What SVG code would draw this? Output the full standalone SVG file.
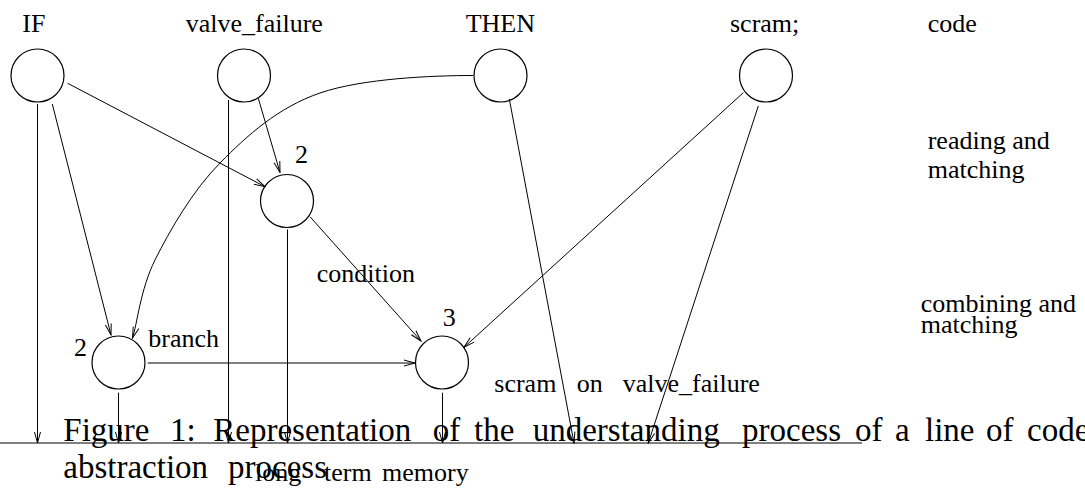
<svg xmlns="http://www.w3.org/2000/svg" width="1085" height="491" viewBox="0 0 1085 491">
  <style>
    .lbl { font-family: "Liberation Serif", "Times New Roman", serif; font-size: 26px; fill: #000; }
    .cap { font-family: "Liberation Serif", "Times New Roman", serif; font-size: 33px; fill: #000; }
    .node circle { fill: none; stroke: #000; stroke-width: 1.2; }
    .edge { fill: none; stroke: #000; stroke-width: 1; }
    .arr { marker-end: url(#vhead); }
  </style>
  <defs>
    <marker id="vhead" markerUnits="userSpaceOnUse" viewBox="-12 -4 13 8" refX="0" refY="0" markerWidth="13" markerHeight="8" orient="auto">
      <path d="M-11,-3 L0,0 L-11,3" fill="none" stroke="#000" stroke-width="1"/>
    </marker>
  </defs>
  <rect width="1085" height="491" fill="#fff"/>

  <!-- level labels -->
  <text class="lbl" x="927.7" y="32.3">code</text>
  <text class="lbl" x="927.7" y="149">reading and</text>
  <text class="lbl" x="927.7" y="178">matching</text>
  <text class="lbl" x="920.7" y="311.7">combining and</text>
  <text class="lbl" x="920.7" y="333">matching</text>

  <!-- code tokens -->
  <g id="n-if" class="node">
    <circle cx="37.5" cy="75.5" r="26.5"/>
    <text class="lbl" x="22.3" y="32.3">IF</text>
  </g>
  <g id="n-valve" class="node">
    <circle cx="244" cy="75.5" r="26.5"/>
    <text class="lbl" x="185.7" y="32.3">valve_failure</text>
  </g>
  <g id="n-then" class="node">
    <circle cx="500.5" cy="75.5" r="26.5"/>
    <text class="lbl" x="465.7" y="32.3">THEN</text>
  </g>
  <g id="n-scram" class="node">
    <circle cx="766" cy="75.5" r="26.5"/>
    <text class="lbl" x="730" y="32.3">scram;</text>
  </g>

  <!-- matched condition -->
  <g id="n-cond" class="node">
    <circle cx="287" cy="201" r="26.5"/>
    <text class="lbl" x="295" y="163.3">2</text>
  </g>
  <!-- branch -->
  <g id="n-branch" class="node">
    <circle cx="118.5" cy="362.5" r="26.5"/>
    <text class="lbl" x="74" y="356">2</text>
  </g>
  <!-- combined rule -->
  <g id="n-rule" class="node">
    <circle cx="442" cy="362.5" r="26.5"/>
    <text class="lbl" x="442.7" y="326">3</text>
  </g>

  <!-- connectors -->
  <g id="connectors">
    <line class="edge arr" x1="37.5" y1="104" x2="37.5" y2="443"/>
    <line class="edge arr" x1="52.3" y1="104" x2="111" y2="335"/>
    <line class="edge arr" x1="67.7" y1="83.3" x2="265" y2="186.7"/>
    <line class="edge arr" x1="228.5" y1="100" x2="228.5" y2="443"/>
    <line class="edge arr" x1="258.3" y1="98.3" x2="280" y2="172.5"/>
    <line class="edge arr" x1="287.5" y1="229.5" x2="287.5" y2="443"/>
    <line class="edge arr" x1="310" y1="216.7" x2="421" y2="341"/>
    <path class="edge arr" d="M473,75.5 C433,75.5 362.2,78.4 320,93 C277.8,107.6 247.5,135.2 220,163 C192.5,190.8 169.6,230.8 155,260 C140.4,289.2 137,325 132.5,338"/>
    <line class="edge arr" x1="509.3" y1="99" x2="574" y2="443"/>
    <line class="edge arr" x1="743.3" y1="92.7" x2="464" y2="347.3"/>
    <line class="edge arr" x1="758.3" y1="106" x2="648.3" y2="443"/>
    <line class="edge arr" x1="147.7" y1="363" x2="415" y2="363"/>
    <line class="edge arr" x1="118.5" y1="392.7" x2="118.5" y2="443"/>
    <line class="edge arr" x1="442.5" y1="392.7" x2="442.5" y2="443"/>
    <line class="edge" x1="0" y1="443" x2="862" y2="443"/>
  </g>

  <!-- edge labels -->
  <text class="lbl" x="316.7" y="281.7">condition</text>
  <text class="lbl" x="148.3" y="347.3">branch</text>
  <text class="lbl" y="391.7"><tspan x="494.3">scram</tspan><tspan x="576.7">on</tspan><tspan x="622.7">valve_failure</tspan></text>
  <text class="lbl" y="481"><tspan x="255">long</tspan><tspan x="324">term</tspan><tspan x="382">memory</tspan></text>

  <!-- caption -->
  <text class="cap" y="440.5"><tspan x="63.3">Figure</tspan><tspan x="170">1:</tspan><tspan x="213.3">Representation</tspan><tspan x="432.7">of</tspan><tspan x="474">the</tspan><tspan x="532.7">understanding</tspan><tspan x="742">process</tspan><tspan x="855">of</tspan><tspan x="895">a</tspan><tspan x="925">line</tspan><tspan x="986">of</tspan><tspan x="1027">code</tspan></text>
  <text class="cap" y="478.3"><tspan x="63.3">abstraction</tspan><tspan x="228">process</tspan></text>
</svg>
